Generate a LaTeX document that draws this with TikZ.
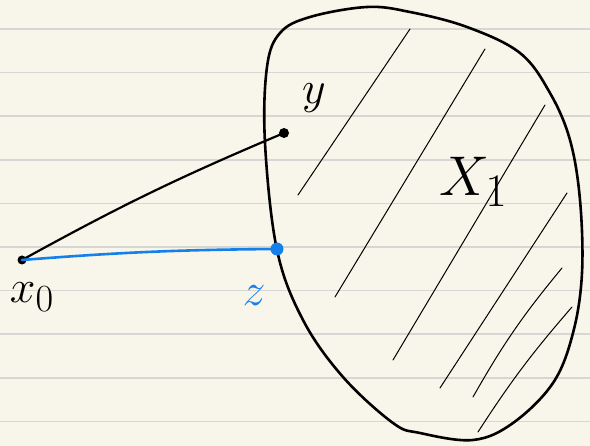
\documentclass[tikz,border=0pt]{standalone}
\usepackage{tikz}

\definecolor{papel}{RGB}{248,246,234}
\definecolor{renglon}{RGB}{214,214,210}
\definecolor{azul}{RGB}{22,128,234}

\newcommand{\letra}[2][1.85]{\scalebox{#1}{$#2$}}

\tikzset{
  trazo/.style={line width=2.6pt, line cap=round, line join=round},
  rayado/.style={line width=1pt, line cap=round},
  punto/.style={circle, fill, inner sep=0pt, minimum size=#1},
  etiqueta/.style={font=\Huge, inner sep=0pt}
}

\begin{document}
\begin{tikzpicture}[x=1pt, y=-1pt]
    % parámetros
    \def\W{590}    % ancho
    \def\H{446}    % alto
    \def\paso{43.6}  % separación de renglones

    %—————— Hoja ——————————————————————————————————————————————————
    \useasboundingbox (0,0) rectangle (\W,\H);
    \fill[papel] (0,0) rectangle (\W,\H);
    \foreach \k in {0,...,9}
      \draw[renglon, line width=1.6pt] (0,{29+\k*\paso}) -- (\W,{29+\k*\paso});

    %—————— Conjunto X_1 ——————————————————————————————————————————
    % rayado interior
    \draw[rayado] (298,195) -- (410,29);
    \draw[rayado] (335,297) -- (485,49);
    \draw[rayado] (393,360) -- (545,105);
    \draw[rayado] (440,388) -- (567,193);
    \draw[rayado] (473,397) to[bend left=5] (562,268);
    \draw[rayado] (478,432) to[bend left=4] (572,307);
    % borde
    \draw[trazo] plot[smooth cycle, tension=0.6] coordinates {
      (280,33) (310,17) (367,7) (410,12) (467,27) (520,53) (550,93)
      (570,140) (580,200) (582,273) (573,333) (553,383) (513,423)
      (473,440) (420,433) (393,423) (343,377) (303,320) (277,250)
      (265,143) (267,67)
    };
    \node[etiqueta] (lX) at (474,182) {\letra[2.25]{X_1}};

    %—————— Puntos y segmentos ————————————————————————————————————
    \node[punto=9pt] (x0) at (22,260) {};
    \node[punto=10pt] (y) at (284,133) {};
    \node[punto=13pt, azul] (z) at (277,249) {};
    \draw[trazo, line width=2.2pt] (x0.center) to[bend left=3] (y.center);
    \draw[trazo, azul, line width=2.6pt] (x0.center) to[bend left=2] (z.center);
    % etiquetas
    \node[etiqueta] (ly) at (314,98) {\letra{y}};
    \node[etiqueta] (lx0) at (32,297) {\letra{x_0}};
    \node[etiqueta, azul] (lz) at (254,296) {\letra{z}};
\end{tikzpicture}
\end{document}
